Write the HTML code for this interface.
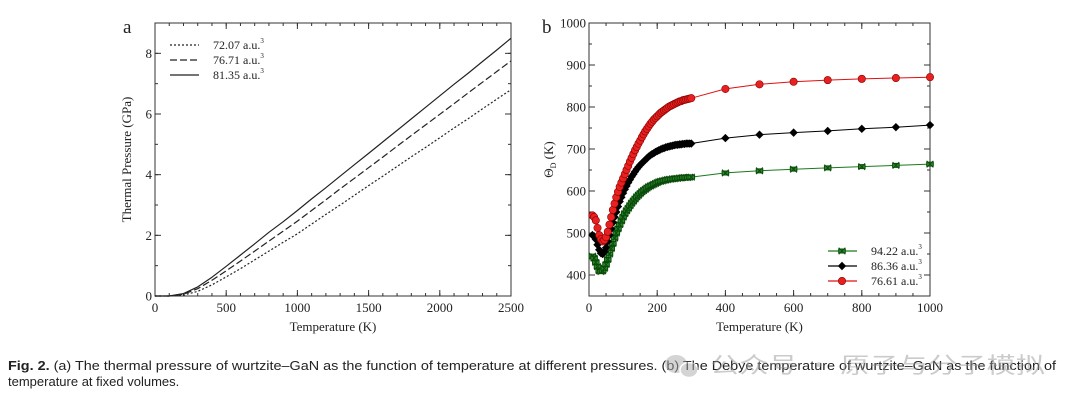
<!DOCTYPE html>
<html><head><meta charset="utf-8"><style>
html,body{margin:0;padding:0;background:#fff;}
svg{display:block;font-family:"Liberation Serif",serif;}
</style></head><body>
<svg id="fig" width="1080" height="411" viewBox="0 0 1080 411">
  <g id="pa"></g>
  <g id="pb"></g>
  <text x="8" y="370" font-family="'Liberation Sans',sans-serif" font-size="13" fill="#222" textLength="1048" lengthAdjust="spacingAndGlyphs"><tspan font-weight="bold">Fig. 2.</tspan>   (a) The thermal pressure of wurtzite–GaN as the function of temperature at different pressures. (b) The Debye temperature of wurtzite–GaN as the function of</text>
  <text x="8" y="386" font-family="'Liberation Sans',sans-serif" font-size="13" fill="#222">temperature at fixed volumes.</text>
  <g opacity="0.5">
    <ellipse cx="676" cy="364" rx="11" ry="9" fill="#aaa"/>
    <ellipse cx="689" cy="370" rx="9" ry="7.5" fill="#aaa" stroke="#fff" stroke-width="1.5"/>
    <text x="710" y="373" font-family="'Noto Sans CJK SC',sans-serif" font-size="22" fill="#999" textLength="335" lengthAdjust="spacingAndGlyphs">公众号 · 原子与分子模拟</text>
  </g>
</svg>
<script>
// Panel a data
const aTemps = [0,100,200,300,400,500,600,700,800,900,1000,1100,1200,1300,1400,1500,1600,1700,1800,1900,2000,2100,2200,2300,2400,2500];
const aV72 = [0,0,0.03,0.15,0.37,0.63,0.9,1.19,1.48,1.77,2.05,2.37,2.69,3.0,3.32,3.64,3.95,4.27,4.59,4.9,5.22,5.54,5.85,6.17,6.49,6.8];
const aV76 = [0,0,0.06,0.24,0.52,0.83,1.15,1.48,1.81,2.14,2.47,2.82,3.17,3.53,3.88,4.23,4.58,4.94,5.29,5.64,5.99,6.34,6.7,7.05,7.4,7.75];
const aV81 = [0,0,0.08,0.3,0.62,0.98,1.35,1.72,2.1,2.45,2.82,3.2,3.57,3.95,4.33,4.7,5.08,5.46,5.84,6.22,6.6,6.98,7.35,7.73,8.11,8.5];
const aXTicks = [0,500,1000,1500,2000,2500];
const aYTicks = [0,2,4,6,8];
const aLabels = ["72.07 a.u.","76.71 a.u.","81.35 a.u."];
// Panel b data
const bTemps = [10,15,20,25,30,35,40,45,50,55,60,65,70,75,80,85,90,95,100,105,110,115,120,125,130,135,140,145,150,155,160,165,170,175,180,185,190,195,200,205,210,215,220,225,230,235,240,245,250,255,260,265,270,275,280,285,290,295,300,400,500,600,700,800,900,1000];
const bRed = [542,538,530,512,495,485,480,483,490,503,520,538,555,570,585,598,610,620,630,640,650,660,670,679,688,697,705,713,720,728,735,742,748,754,760,765,770,774,778,782,786,789,792,795,798,801,803,805,807,809,811,813,814,816,817,818,819,820,821,843,854,860,864,867,869,871];
const bBlack = [495,492,485,472,460,452,450,455,465,480,495,510,525,538,550,563,575,585,595,604,612,620,627,634,640,646,652,657,662,666,670,674,678,682,685,688,690,693,695,697,699,701,702,704,705,706,707,708,709,710,710,711,711,712,712,713,713,713,713,726,734,739,743,748,752,757];
const bGreen = [445,440,430,420,410,408,410,416,425,437,450,463,475,488,500,510,520,529,538,546,553,559,565,571,576,581,586,590,594,598,601,604,607,610,612,614,616,618,620,622,623,624,625,626,627,628,628,629,629,630,630,631,631,632,632,632,632,633,633,643,648,652,655,658,661,664];
const bXTicks = [0,200,400,600,800,1000];
const bYTicks = [400,500,600,700,800,900,1000];
const bLabels = ["94.22 a.u.","86.36 a.u.","76.61 a.u."];

const NS="http://www.w3.org/2000/svg";
function mk(parent,tag,attrs){const e=document.createElementNS(NS,tag);for(const k in attrs)e.setAttribute(k,attrs[k]);parent.appendChild(e);return e;}

function axes(g,L,R,T,B,xs,ys,xTicks,yTicks,xMinor,yMinor,xTitle){
  const box=mk(g,'rect',{x:L,y:T,width:R-L,height:B-T,fill:'none',stroke:'#333','stroke-width':1});
  
  
  xMinor.forEach(v=>{const x=xs(v);mk(g,'line',{x1:x,x2:x,y1:B,y2:B-3,stroke:'#333'});mk(g,'line',{x1:x,x2:x,y1:T,y2:T+3,stroke:'#333'});});
  yMinor.forEach(v=>{const y=ys(v);mk(g,'line',{x1:L,x2:L+3,y1:y,y2:y,stroke:'#333'});mk(g,'line',{x1:R,x2:R-3,y1:y,y2:y,stroke:'#333'});});
  xTicks.forEach(v=>{const x=xs(v);mk(g,'line',{x1:x,x2:x,y1:B,y2:B-6,stroke:'#333'});mk(g,'line',{x1:x,x2:x,y1:T,y2:T+6,stroke:'#333'});
    const t=mk(g,'text',{x:x,y:B+16,'text-anchor':'middle','font-size':13,fill:'#222'});t.textContent=v;
    
    });
  yTicks.forEach(v=>{const y=ys(v);mk(g,'line',{x1:L,x2:L+6,y1:y,y2:y,stroke:'#333'});mk(g,'line',{x1:R,x2:R-6,y1:y,y2:y,stroke:'#333'});
    const t=mk(g,'text',{x:L-3,y:y+4.5,'text-anchor':'end','font-size':13,fill:'#222'});t.textContent=v;
    
    });
  const xt=mk(g,'text',{x:(L+R)/2,y:B+35,'text-anchor':'middle','font-size':13,fill:'#222'});xt.textContent=xTitle;
  
  
}

// Panel a
(function(){
  const g=document.getElementById('pa');
  const L=155,R=511,T=23,B=296;
  const xs=v=>L+(v/2500)*(R-L), ys=v=>B-(v/9)*(B-T);
  const xm=[];for(let v=0;v<=2500;v+=100)xm.push(v);
  const ym=[];for(let v=0;v<=9;v+=1)ym.push(v);
  axes(g,L,R,T,B,xs,ys,aXTicks,aYTicks,xm,ym,'Temperature (K)');
  const yt=mk(g,'text',{x:0,y:0,'text-anchor':'middle','font-size':13,fill:'#222',transform:`translate(131,${(T+B)/2}) rotate(-90)`});yt.textContent='Thermal Pressure (GPa)';
  
  
  const lab=mk(g,'text',{x:123,y:33,'font-size':19,fill:'#222'});lab.textContent='a';
  
  
  const series=[aV72,aV76,aV81], dashes=['2,2','7,3','none'];
  series.forEach((s,i)=>{
    const d=aTemps.map((t,j)=>(j?'L':'M')+xs(t).toFixed(1)+','+ys(s[j]).toFixed(1)).join('');
    const p=mk(g,'path',{d:d,fill:'none',stroke:'#222','stroke-width':1.2,'stroke-dasharray':dashes[i],'stroke-linejoin':'round'});
    
    
    const ly=45+i*15;
    const ll=mk(g,'line',{x1:170,x2:199,y1:ly,y2:ly,stroke:'#222','stroke-width':1.2,'stroke-dasharray':dashes[i]});
    
    
    const lt=mk(g,'text',{x:213,y:ly+4,'font-size':12,fill:'#222'});lt.textContent=aLabels[i];
    const sp=mk(lt,'tspan',{dy:-6,'font-size':7});sp.textContent='3';
    
    
  });
})();

// Panel b
(function(){
  const g=document.getElementById('pb');
  const L=589,R=930,T=23,B=296;
  const xs=v=>L+(v/1000)*(R-L), ys=v=>B-((v-350)/650)*(B-T);
  const xm=[];for(let v=0;v<=1000;v+=50)xm.push(v);
  const ym=[];for(let v=350;v<=1000;v+=50)ym.push(v);
  axes(g,L,R,T,B,xs,ys,bXTicks,bYTicks,xm,ym,'Temperature (K)');
  const yt=mk(g,'text',{x:0,y:0,'text-anchor':'middle','font-size':13,fill:'#222',transform:`translate(553,${(T+B)/2}) rotate(-90)`});yt.textContent='Θ';
  const sub=mk(yt,'tspan',{dy:3,'font-size':8});sub.textContent='D';
  const rest=mk(yt,'tspan',{dy:-3});rest.textContent=' (K)';
  
  
  const lab=mk(g,'text',{x:542,y:33,'font-size':19,fill:'#222'});lab.textContent='b';
  
  
  const series=[bGreen,bBlack,bRed], cols=['#1a7a1a','#000','#e01010'], mkTypes=['x','d','o'];
  series.forEach((s,i)=>{
    const d=bTemps.map((t,j)=>(j?'L':'M')+xs(t).toFixed(1)+','+ys(s[j]).toFixed(1)).join('');
    const p=mk(g,'path',{d:d,fill:'none',stroke:cols[i],'stroke-width':1});
    
    
    function marker(x,y){
      let m;
      if(mkTypes[i]==='o') m=mk(g,'circle',{cx:x,cy:y,r:3.7,fill:'#e82020',stroke:'#800',"stroke-width":0.6});
      else if(mkTypes[i]==='d') m=mk(g,'path',{d:`M${x},${y-4.2}L${x+4.2},${y}L${x},${y+4.2}L${x-4.2},${y}Z`,fill:'#000'});
      else m=mk(g,'path',{d:`M${x-3.3},${y-3.3}L${x+3.3},${y+3.3}M${x+3.3},${y-3.3}L${x-3.3},${y+3.3}M${x-3.3},${y-2}h6.6v4h-6.6z`,fill:'#2a8a2a',stroke:'#0a4a0a','stroke-width':1});
      return m;
    }
    bTemps.forEach((t,j)=>{
      const m=marker(xs(t),ys(s[j]));
      
      
    });
    const ly=251+i*15;
    const ll=mk(g,'line',{x1:828,x2:857,y1:ly,y2:ly,stroke:cols[i],'stroke-width':1.2});
    
    
    const lm=marker(842,ly);
    
    
    const lt=mk(g,'text',{x:871,y:ly+4,'font-size':12,fill:'#222'});lt.textContent=bLabels[i];
    const sp=mk(lt,'tspan',{dy:-6,'font-size':7});sp.textContent='3';
    
    
  });
})();
</script>
</body></html>
